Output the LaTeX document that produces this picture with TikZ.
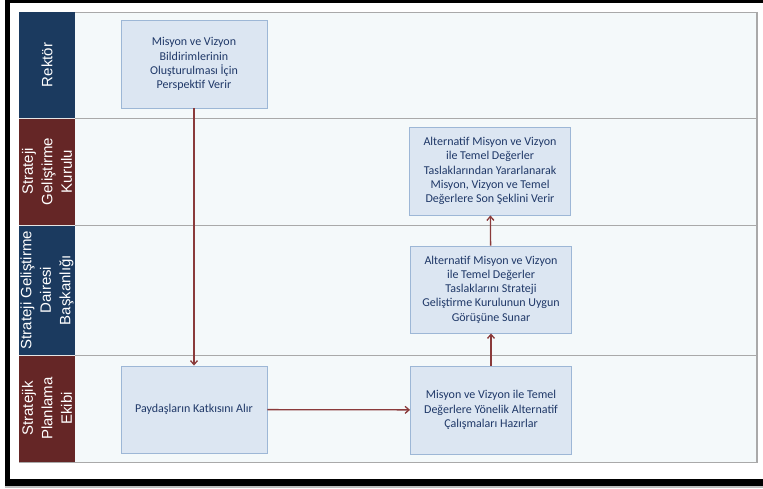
\documentclass[tikz,border=0pt]{standalone}
\usepackage{fontspec}
\setmainfont{Carlito}
\newfontfamily\lanefont{Liberation Sans}
\usepackage{xcolor}
\usetikzlibrary{arrows.meta,positioning}

\definecolor{laneblue}{HTML}{1B3A5F}
\definecolor{lanered}{HTML}{652626}
\definecolor{lanebg}{HTML}{F4F9FA}
\definecolor{laneline}{HTML}{A9A9A9}
\definecolor{boxfill}{HTML}{DCE6F2}
\definecolor{boxline}{HTML}{9DB7D6}
\definecolor{boxtext}{HTML}{1F3868}
\definecolor{flowred}{HTML}{8A3A3A}

\begin{document}
\begin{tikzpicture}[x=1pt,y=-1pt,
        lanehead/.style={rotate=90, text=white, align=center, inner sep=0pt,
            minimum height=56pt, font=\lanefont\fontsize{15}{19.5}\selectfont},
        stepbox/.style={draw=boxline, fill=boxfill, line width=0.9pt, text=boxtext,
            align=center, inner sep=0pt, font=\fontsize{12}{14.2}\selectfont},
        flow/.style={draw=flowred, line width=1.3pt, -{Straight Barb[length=4pt,width=7pt]}}]
        \useasboundingbox (0,0) rectangle (763,488);

        % Marco negro de la captura
        \fill[black] (5,0) rectangle (763,3);
        \fill[black] (5,0) rectangle (10,486);
        \fill[black] (5,479) rectangle (763,486);
        \fill[black!25] (5,486) rectangle (763,488);

        % Fondo de las calles
        \draw[fill=lanebg, draw=laneline, line width=0.8pt] (19,12) rectangle (757,462);
        \draw[laneline, line width=1.5pt] (757,12) -- (757,462);

        % Divisiones entre calles
        \foreach \y in {118,225,355}
            \draw[laneline, line width=0.8pt] (75,\y) -- (757,\y);

        % Cabeceras de las calles
        \node[lanehead, fill=laneblue, minimum width=106pt] (rektor) at (47,65) {Rektör};
        \node[lanehead, fill=lanered, minimum width=107pt] (kurul) at (47,171.5)
            {Strateji\\Geliştirme\\Kurulu};
        \node[lanehead, fill=laneblue, minimum width=130pt] (daire) at (47,290)
            {Strateji Geliştirme\\Dairesi\\Başkanlığı};
        \node[lanehead, fill=lanered, minimum width=107pt] (ekip) at (47,408.5)
            {Stratejik\\Planlama\\Ekibi};
        \draw[white!80!gray, line width=0.6pt] (19,118) -- (75,118);
        \draw[white!80!gray, line width=0.6pt] (19,225) -- (75,225);
        \draw[white!80!gray, line width=0.6pt] (19,355) -- (75,355);

        % Pasos del proceso
        \node[stepbox, minimum width=146pt, minimum height=88pt] (perspektif) at (194,64)
            {Misyon ve Vizyon\\Bildirimlerinin\\Oluşturulması İçin\\Perspektif Verir};
        \node[stepbox, minimum width=161pt, minimum height=88pt] (sonsekil) at (490,171)
            {Alternatif Misyon ve Vizyon\\ile Temel Değerler\\Taslaklarından Yararlanarak\\Misyon, Vizyon ve Temel\\Değerlere Son Şeklini Verir};
        \node[stepbox, minimum width=161pt, minimum height=87pt] (sunar) at (491,289.5)
            {Alternatif Misyon ve Vizyon\\ile Temel Değerler\\Taslaklarını Strateji\\Geliştirme Kurulunun Uygun\\Görüşüne Sunar};
        \node[stepbox, minimum width=146pt, minimum height=87pt] (katki) at (194,409.5)
            {Paydaşların Katkısını Alır};
        \node[stepbox, minimum width=161pt, minimum height=88pt] (alternatif) at (491,410)
            {Misyon ve Vizyon ile Temel\\Değerlere Yönelik Alternatif\\Çalışmaları Hazırlar};

        % Flechas
        \draw[flow] (perspektif) -- (katki);
        \draw[flow] (katki) -- (alternatif);
        \draw[flow] (alternatif) -- (sunar);
        \draw[flow] (sunar) -- (sonsekil);
\end{tikzpicture}
\end{document}
